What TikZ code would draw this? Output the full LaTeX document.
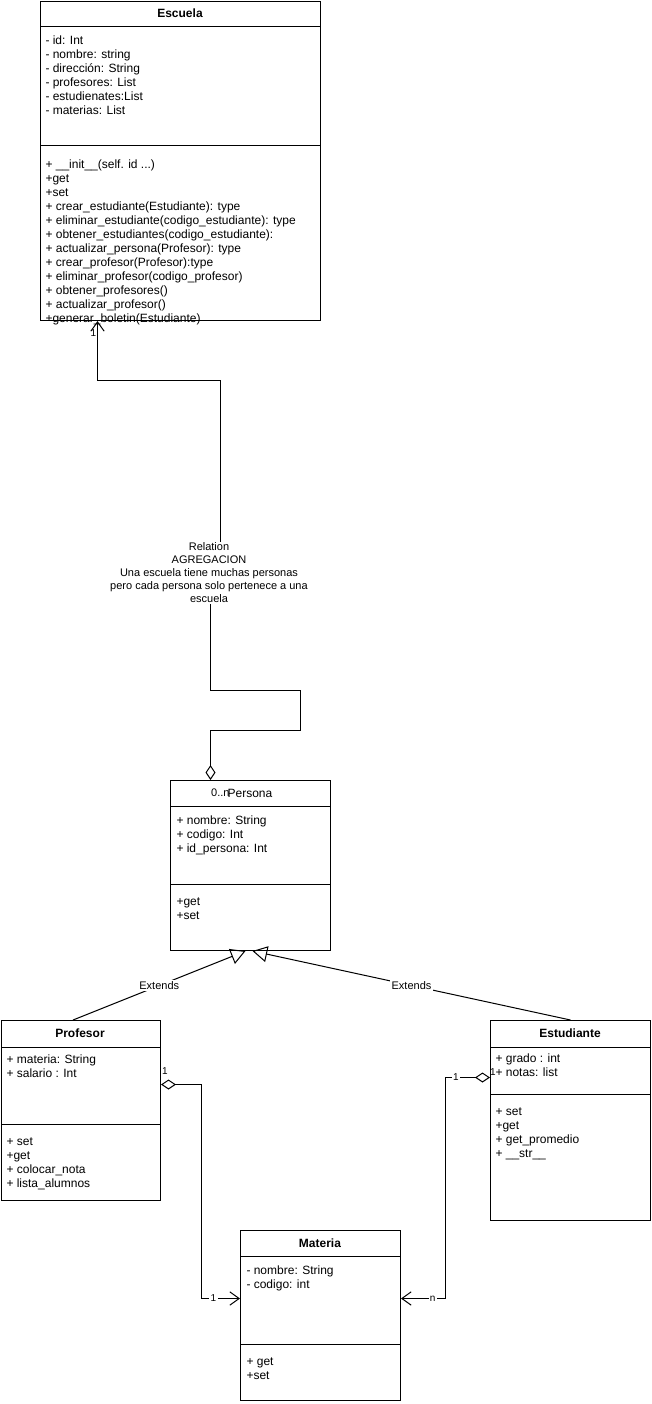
\documentclass[tikz,border=0pt]{standalone}
\usepackage{fontspec}
\setmainfont{Liberation Sans}
\usetikzlibrary{arrows.meta}

\begin{document}
\begin{tikzpicture}[x=0.75pt, y=-0.75pt, line width=0.75pt, every node/.style={font=\fontsize{9}{10.5}\selectfont}, cls/.style={draw, anchor=north west, inner sep=0pt}, hdr/.style={font=\fontsize{9}{10.5}\selectfont\bfseries}, txt/.style={anchor=north west, inner sep=0pt, align=left}, lbl/.style={font=\fontsize{8.25}{9.75}\selectfont, fill=white, inner sep=1pt}, mult/.style={font=\fontsize{7.5}{9}\selectfont, inner sep=0pt}, agg/.style={{Diamond[open,length=11.25pt,width=7.5pt]}-{Straight Barb[length=7pt,width=10pt]}}, ext/.style={-{Triangle[open,length=11pt,width=12pt]}}]
\fill[white] (0,0) rectangle (652,1404);
\useasboundingbox (0,0) rectangle (652,1404);

\node[cls, minimum width=210pt, minimum height=239.25pt] (escuela) at (40,1) {};
\draw (escuela.north west) ++(0,25) -- ++(280,0);
\draw (escuela.north west) ++(0,144) -- ++(280,0);
\node[hdr] (escuelaT) at (180,13) {Escuela};
\node[txt] (escuelaA) at (45,35.5) {- id: Int\\- nombre: string\\- dirección: String\\- profesores: List\\- estudienates:List\\- materias: List};
\node[txt] (escuelaM) at (45,159.5) {+ \_\_init\_\_(self. id ...)\\+get\\+set\\+ crear\_estudiante(Estudiante): type\\+ eliminar\_estudiante(codigo\_estudiante): type\\+ obtener\_estudiantes(codigo\_estudiante):\\+ actualizar\_persona(Profesor): type\\+ crear\_profesor(Profesor):type\\+ eliminar\_profesor(codigo\_profesor)\\+ obtener\_profesores()\\+ actualizar\_profesor()\\+generar\_boletin(Estudiante)};

\node[cls, minimum width=120pt, minimum height=127.5pt] (persona) at (170,780) {};
\draw (persona.north west) ++(0,26) -- ++(160,0);
\draw (persona.north west) ++(0,104) -- ++(160,0);
\node (personaT) at (250,793) {Persona};
\node[txt] (personaA) at (176,815.5) {+ nombre: String\\+ codigo: Int\\+ id\_persona: Int};
\node[txt] (personaM) at (176,897.5) {+get\\+set};

\node[cls, minimum width=119.25pt, minimum height=135pt] (profesor) at (1,1020) {};
\draw (profesor.north west) ++(0,27) -- ++(159,0);
\draw (profesor.north west) ++(0,104) -- ++(159,0);
\node[hdr] (profesorT) at (80,1033) {Profesor};
\node[txt] (profesorA) at (6,1054.5) {+ materia: String\\+ salario : Int};
\node[txt] (profesorM) at (6,1137.5) {+ set\\+get\\+ colocar\_nota\\+ lista\_alumnos};

\node[cls, minimum width=120pt, minimum height=150pt] (estudiante) at (490,1020) {};
\draw (estudiante.north west) ++(0,27) -- ++(160,0);
\draw (estudiante.north west) ++(0,74) -- ++(160,0);
\node[hdr] (estudianteT) at (570,1033) {Estudiante};
\node[txt] (estudianteA) at (495,1053.5) {+ grado : int\\+ notas: list};
\node[txt] (estudianteM) at (495,1107.5) {+ set\\+get\\+ get\_promedio\\+ \_\_str\_\_};

\node[cls, minimum width=120pt, minimum height=127.5pt] (materia) at (240,1230) {};
\draw (materia.north west) ++(0,26) -- ++(160,0);
\draw (materia.north west) ++(0,114) -- ++(160,0);
\node[hdr] (materiaT) at (320,1243) {Materia};
\node[txt] (materiaA) at (246,1265.5) {- nombre: String\\- codigo: int};
\node[txt] (materiaM) at (246,1357.5) {+ get\\+set};

\draw[agg] ([xshift=-30pt]persona.north) -- ++(0,-50) -- ++(90,0) -- ++(0,-40) -- ++(-90,0) -- ++(0,-115) -- ++(10,0) -- ++(0,-195) -| ([xshift=-62.25pt]escuela.south);
\node[lbl, align=center] (rel) at (209,573) {Relation\\AGREGACION\\Una escuela tiene muchas personas\\pero cada persona solo pertenece a una\\escuela};
\node[mult] (escuelaN) at (93.5,333) {1};
\node[mult, font=\fontsize{8.25}{9.75}\selectfont, anchor=east] (personaN) at (230,793) {0..n};

\draw[ext] ([xshift=-6pt]profesor.north) -- ([xshift=-3.75pt]persona.south) node[lbl, midway] {Extends};
\draw[ext] (estudiante.north) -- ([xshift=1.5pt]persona.south) node[lbl, midway] {Extends};

\draw[agg] ([yshift=19.5pt]profesor.east) -- ++(40,0) |- ([yshift=12.75pt]materia.west) node[lbl, mult, fill=white, inner sep=1pt, pos=0.66] {1};
\node[mult] (profesorN) at (165,1071) {1};
\draw[agg] ([yshift=32.25pt]estudiante.west) -- ++(-45,0) node[lbl, mult, fill=white, inner sep=1pt, pos=0.76] {1} |- ([yshift=12.75pt]materia.east) node[lbl, mult, fill=white, inner sep=1pt, pos=0.64] {n};
\node[mult] (estudianteN) at (493,1072) {1};
\end{tikzpicture}
\end{document}
